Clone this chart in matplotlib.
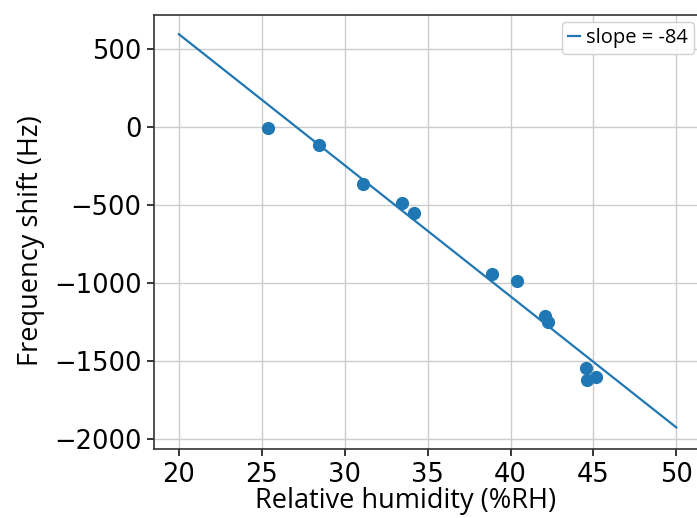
import numpy as np
import matplotlib
matplotlib.use("Agg")
import matplotlib.pyplot as plt

# measured points
humidity = [25.4, 28.45, 31.1, 33.45, 34.2, 38.87, 40.38, 42.09, 42.29, 44.56, 44.6, 45.18]
freq_shift = [-5, -115, -365, -489, -549, -940, -989, -1212, -1252, -1547, -1622, -1600]

# fitted line
fit_x = [20, 50]
slope = -84
intercept = 2275

fig = plt.figure(figsize=(6.97, 5.18), dpi=100)
ax = fig.add_axes([0.221, 0.133, 0.785, 0.838])

fx = np.array(fit_x)
ax.plot(fx, intercept + slope * fx, color="#1f77b4", linewidth=1.6,
        label=f"slope = {slope}")
ax.scatter(humidity, freq_shift, s=72, color="#1f77b4", zorder=3)

ax.set_xlim(18.5, 51.5)
ax.set_ylim(-2064, 718)
ax.set_xticks([20, 25, 30, 35, 40, 45, 50])
ax.set_yticks([500, 0, -500, -1000, -1500, -2000])
ax.tick_params(labelsize=18.5, length=5, width=1.1, pad=4)
ax.grid(True, color="#cccccc", linewidth=1)
ax.set_axisbelow(True)
for sp in ax.spines.values():
    sp.set_linewidth(1.2)
    sp.set_color("#333333")

ax.set_xlabel("Relative humidity (%RH)", fontsize=19.5, family="Open Sans")
ax.set_ylabel("Frequency shift (Hz)", fontsize=19.5, family="Open Sans")
ax.xaxis.set_label_coords(0.46, -0.088)
ax.yaxis.set_label_coords(-0.2, 0.48)

ax.legend(loc="upper right", handlelength=0.6, handletextpad=0.3,
          prop={"family": "Open Sans", "size": 14.5}, borderaxespad=0.35,
          borderpad=0.3, fancybox=True, framealpha=0.9)

fig.savefig("out.png", dpi=100)
